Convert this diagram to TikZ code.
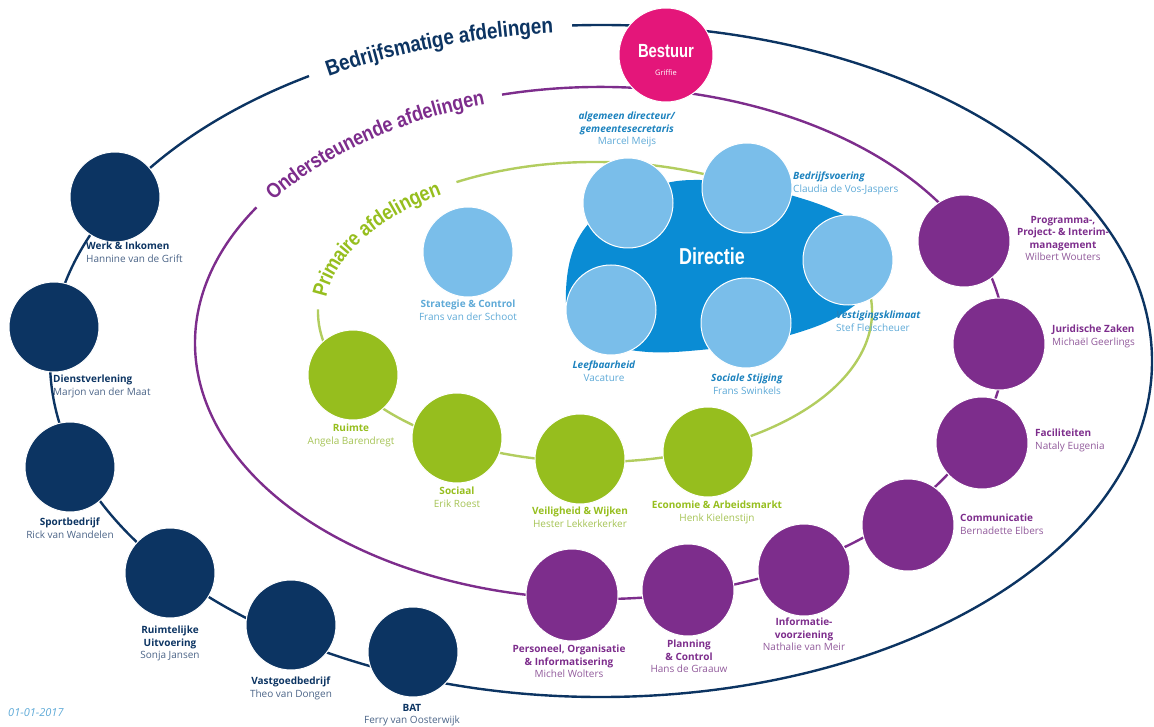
\documentclass[tikz,border=0pt]{standalone}
\usepackage{fontspec}
\setmainfont{Open Sans}
\newfontfamily\bandfont[FakeStretch=0.86]{Liberation Sans}
\newfontfamily\titlefont[FakeStretch=0.78]{Liberation Sans}
\usetikzlibrary{positioning,decorations.text}

\definecolor{navy}{RGB}{12,52,98}
\definecolor{navyname}{RGB}{75,100,135}
\definecolor{bestuurpink}{RGB}{228,22,122}
\definecolor{paars}{RGB}{125,45,140}
\definecolor{paarsname}{RGB}{145,90,155}
\definecolor{groen}{RGB}{150,190,30}
\definecolor{groenline}{RGB}{178,205,95}
\definecolor{groenname}{RGB}{165,195,85}
\definecolor{lichtblauw}{RGB}{122,190,234}
\definecolor{directieblauw}{RGB}{10,140,212}
\definecolor{blauwtitel}{RGB}{28,130,190}
\definecolor{blauwname}{RGB}{95,170,215}

\begin{document}
\begin{tikzpicture}[x=1pt,y=-1pt,
    navy ring/.style={navy, line width=2.4pt},
    paars ring/.style={paars, line width=2.4pt},
    groen ring/.style={groenline, line width=2.4pt},
    unit/.style={circle, minimum size=90pt, inner sep=0pt, draw=white, line width=1pt},
    navy unit/.style={unit, fill=navy},
    paars unit/.style={unit, fill=paars, minimum size=92pt},
    groen unit/.style={unit, fill=groen},
    blauw unit/.style={unit, fill=lichtblauw},
    unit label/.style={inner sep=0pt, font=\fontsize{10}{12.5}\selectfont, align=center},
    band/.style={decorate, decoration={text along path, text align=center, raise=-7pt}}]

    \useasboundingbox (0,0) rectangle (1154,727);

    % the three rings, each broken where its title runs
    \draw[navy ring] (601,361) ++(267:551 and 336) arc [start angle=267, end angle=598, x radius=551, y radius=336];
    \draw[paars ring] (600,343) ++(256:405 and 256) arc [start angle=256, end angle=572, x radius=405, y radius=256];
    \draw[groen ring] (595,312) ++(240:277 and 150) arc [start angle=240, end angle=541, x radius=277, y radius=150];

    \path[band, decoration={text color=navy, text={|\bandfont\bfseries\fontsize{22}{22}\selectfont|Bedrijfsmatige afdelingen}}]
        (601,361) ++(239:551 and 336) arc [start angle=239, end angle=266, x radius=551, y radius=336];
    \path[band, decoration={text color=paars, text={|\bandfont\bfseries\fontsize{21}{21}\selectfont|Ondersteunende afdelingen}}]
        (600,343) ++(213:405 and 256) arc [start angle=213, end angle=255, x radius=405, y radius=256];
    \path[band, decoration={text color=groen, text={|\bandfont\bfseries\fontsize{21}{21}\selectfont|Primaire afdelingen}}]
        (595,312) ++(181:277 and 150) arc [start angle=181, end angle=239, x radius=277, y radius=150];

    % directie
    \fill[directieblauw] plot[smooth cycle, tension=0.7] coordinates
        {(566,290) (585,228) (640,193) (700,180) (790,195) (860,225) (885,262) (855,305) (790,335) (700,350) (630,350) (580,332)};
    \node[text=white, font=\titlefont\bfseries\fontsize{23}{23}\selectfont] (directie) at (712,256) {Directie};

    \node[unit, fill=bestuurpink, minimum size=94pt] (bestuur) at (666,55) {};
    \node[text=white, font=\titlefont\bfseries\fontsize{19}{19}\selectfont] (bestuur title) at (666,51) {Bestuur};
    \node[text=white, font=\fontsize{7.5}{8}\selectfont] (griffie) at (666,73) {Griffie};

    % bedrijfsmatige afdelingen
    \node[navy unit] (werk) at (115,197) {};
    \node[navy unit] (dienst) at (54,327) {};
    \node[navy unit] (sport) at (70,467) {};
    \node[navy unit] (ruimtelijk) at (170,573) {};
    \node[navy unit] (vastgoed) at (291,625) {};
    \node[navy unit] (bat) at (413,652) {};

    \node[unit label, anchor=north west, align=left, text=navy] (werk label) at (86,242) {\textbf{Werk \& Inkomen}\\\color{navyname}Hannine van de Grift};
    \node[unit label, anchor=north west, align=left, text=navy] (dienst label) at (53,375) {\textbf{Dienstverlening}\\\color{navyname}Marjon van der Maat};
    \node[unit label, anchor=north, text=navy] (sport label) at (70,518) {\textbf{Sportbedrijf}\\\color{navyname}Rick van Wandelen};
    \node[unit label, anchor=north, text=navy] (ruimtelijk label) at (170,626) {\textbf{Ruimtelijke}\\\textbf{Uitvoering}\\\color{navyname}Sonja Jansen};
    \node[unit label, anchor=north, text=navy] (vastgoed label) at (291,677) {\textbf{Vastgoedbedrijf}\\\color{navyname}Theo van Dongen};
    \node[unit label, anchor=north, text=navy] (bat label) at (412,704) {\textbf{BAT}\\\color{navyname}Ferry van Oosterwijk};

    % directie en staf
    \node[blauw unit] (strategie) at (468,252) {};
    \node[blauw unit] (algemeen) at (628,203) {};
    \node[blauw unit] (bedrijfsvoering) at (747,188) {};
    \node[blauw unit] (vestiging) at (848,260) {};
    \node[blauw unit] (leefbaar) at (611,310) {};
    \node[blauw unit] (sociale) at (746,323) {};

    \node[unit label, anchor=north, text=blauwname] (strategie label) at (468,300) {\textbf{Strategie \& Control}\\Frans van der Schoot};
    \node[unit label, anchor=north, text=blauwtitel] (algemeen label) at (627,112) {\textbf{\itshape algemeen directeur/}\\\textbf{\itshape gemeentesecretaris}\\\color{blauwname}Marcel Meijs};
    \node[unit label, anchor=north west, align=left, text=blauwtitel] (bedrijfsvoering label) at (793,172) {\textbf{\itshape Bedrijfsvoering}\\\color{blauwname}Claudia de Vos-Jaspers};
    \node[unit label, anchor=north west, align=left, text=blauwtitel] (vestiging label) at (836,311) {\textbf{\itshape Vestigingsklimaat}\\\color{blauwname}Stef Fleischeuer};
    \node[unit label, anchor=north, text=blauwtitel] (leefbaar label) at (604,361) {\textbf{\itshape Leefbaarheid}\\\color{blauwname}Vacature};
    \node[unit label, anchor=north, text=blauwtitel] (sociale label) at (747,374) {\textbf{\itshape Sociale Stijging}\\\color{blauwname}Frans Swinkels};

    % primaire afdelingen
    \node[groen unit] (ruimte) at (353,375) {};
    \node[groen unit] (sociaal) at (457,438) {};
    \node[groen unit] (veiligheid) at (580,459) {};
    \node[groen unit] (economie) at (708,452) {};

    \node[unit label, anchor=north, text=groen] (ruimte label) at (351,424) {\textbf{Ruimte}\\\color{groenname}Angela Barendregt};
    \node[unit label, anchor=north, text=groen] (sociaal label) at (457,487) {\textbf{Sociaal}\\\color{groenname}Erik Roest};
    \node[unit label, anchor=north, text=groen] (veiligheid label) at (580,507) {\textbf{Veiligheid \& Wijken}\\\color{groenname}Hester Lekkerkerker};
    \node[unit label, anchor=north, text=groen] (economie label) at (717,501) {\textbf{Economie \& Arbeidsmarkt}\\\color{groenname}Henk Kielenstijn};

    % ondersteunende afdelingen
    \node[paars unit] (programma) at (964,241) {};
    \node[paars unit] (juridisch) at (999,344) {};
    \node[paars unit] (faciliteiten) at (982,443) {};
    \node[paars unit] (communicatie) at (908,525) {};
    \node[paars unit] (informatie) at (804,570) {};
    \node[paars unit] (planning) at (688,590) {};
    \node[paars unit] (personeel) at (572,595) {};

    \node[unit label, anchor=north, text=paars] (programma label) at (1063,216) {\textbf{Programma-,}\\\textbf{Project- \& Interim-}\\\textbf{management}\\\color{paarsname}Wilbert Wouters};
    \node[unit label, anchor=north west, align=left, text=paars] (juridisch label) at (1052,325) {\textbf{Juridische Zaken}\\\color{paarsname}Michaël Geerlings};
    \node[unit label, anchor=north west, align=left, text=paars] (faciliteiten label) at (1035,429) {\textbf{Faciliteiten}\\\color{paarsname}Nataly Eugenia};
    \node[unit label, anchor=north west, align=left, text=paars] (communicatie label) at (960,514) {\textbf{Communicatie}\\\color{paarsname}Bernadette Elbers};
    \node[unit label, anchor=north, text=paars] (informatie label) at (804,618) {\textbf{Informatie-}\\\textbf{voorziening}\\\color{paarsname}Nathalie van Meir};
    \node[unit label, anchor=north, text=paars] (planning label) at (689,640) {\textbf{Planning}\\\textbf{\& Control}\\\color{paarsname}Hans de Graauw};
    \node[unit label, anchor=north, text=paars] (personeel label) at (569,645) {\textbf{Personeel, Organisatie}\\\textbf{\& Informatisering}\\\color{paarsname}Michel Wolters};

    \node[anchor=west, inner sep=0pt, text=blauwname, font=\itshape\fontsize{11}{11}\selectfont] (datum) at (8,713) {01-01-2017};
\end{tikzpicture}
\end{document}
